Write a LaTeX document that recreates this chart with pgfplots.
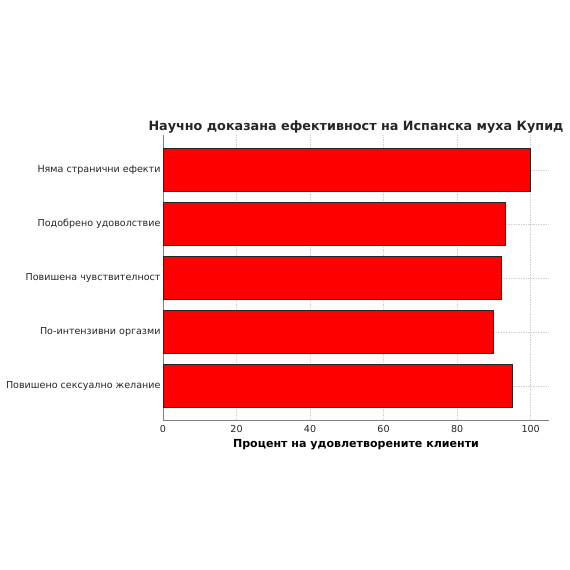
\documentclass[border=0pt]{standalone}
\usepackage{fontspec}
\setmainfont{DejaVu Sans}
\usepackage{pgfplots}
\pgfplotsset{compat=1.18}

\definecolor{spine}{HTML}{808080}
\definecolor{gridc}{HTML}{D0D0D0}

\begin{document}
\begin{tikzpicture}[x=1bp,y=1bp]
\path (0,0) rectangle (570,570);
\begin{axis}[
  at={(163bp,149bp)}, anchor=south west,
  scale only axis, width=386bp, height=285.6bp,
  xmin=0, xmax=105, ymin=-0.64, ymax=4.64,
  axis x line*=bottom, axis y line*=left,
  axis line style={spine, line width=1pt},
  xtick={0,20,40,60,80,100},
  ytick={0,1,2,3,4},
  yticklabels={Повишено сексуално желание, По-интензивни оргазми, Повишена чувствителност, Подобрено удоволствие, Няма странични ефекти},
  major tick length=0pt,
  grid=major, major grid style={gridc, dash pattern=on 1.5bp off 1bp, line width=0.5pt},
  ticklabel style={font=\fontsize{9.6}{11}\selectfont, text=black!85},
  yticklabel style={xshift=1bp},
  xticklabel style={yshift=-1bp},
  /pgf/number format/assume math mode=true,
  xlabel={\bfseries Процент на удовлетворените клиенти},
  xlabel style={font=\fontsize{11.1}{13}\selectfont, yshift=0bp},
  title={\bfseries Научно доказана ефективност на Испанска муха Купид},
  title style={font=\fontsize{12.8}{15}\selectfont, text=black!85, yshift=-7bp},
  xbar, bar width=43bp, bar shift=0pt,
  clip=false,
]
\addplot[fill=red, draw=black!85, line width=0.8pt] coordinates {
  (95,0) (90,1) (92,2) (93,3) (100,4)
};
\end{axis}
\end{tikzpicture}
\end{document}
